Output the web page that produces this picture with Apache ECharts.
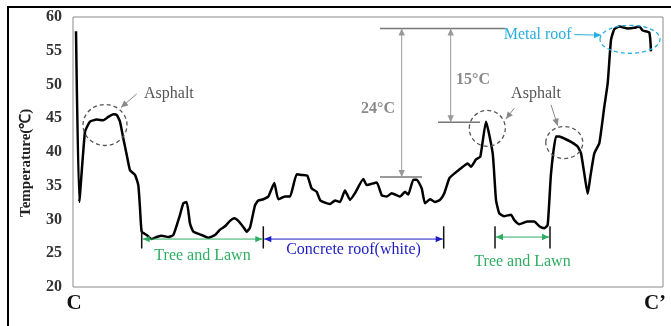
<!DOCTYPE html>
<html><head><meta charset="utf-8">
<script src="https://cdn.jsdelivr.net/npm/echarts@6.0.0/dist/echarts.min.js"></script>
<style>html,body{margin:0;padding:0;background:#fff}#c{width:671px;height:326px}</style>
</head><body><div id="c"></div>
<script>
// transect position (arbitrary distance units along C–C')
const distance = [3, 6.3, 12, 17, 23.7, 30.3, 35.3, 40.3, 43.7, 47,
  50.3, 53.7, 57, 62, 65.3, 67, 68.7, 73.7, 78.7, 83.7,
  88.7, 95.3, 100.3, 107, 110.3, 113.7, 117, 120.3, 128.7, 135.3,
  142, 147, 152, 157, 161.3, 165.3, 170.3, 173.7, 177, 182,
  185.3, 190.3, 195.3, 201.3, 205.3, 212, 217, 223.7, 228.7, 234.3,
  238.7, 243.7, 247, 252, 257, 262, 267, 272, 277, 282,
  290.3, 293.7, 303.7, 308.7, 313.7, 318.7, 327, 332, 335.3, 340.3,
  343.7, 348.7, 352, 357, 362, 367, 371.3, 376.3, 381.3, 388,
  394.7, 398, 403, 407.3, 413, 419.7, 423, 426.3, 431.3, 438,
  441.3, 446.3, 454.7, 461.3, 466.3, 471.3, 474.7, 478, 483, 486.3,
  491.3, 498, 504.7, 508, 511.3, 514.7, 517.3, 521.3, 526.3, 531.3,
  534.7, 538, 541.3, 546.3, 554.7, 561.3, 566.3, 569.7, 576.3, 578];
// surface temperature (°C)
const temperature = [57.9, 32.6, 43.0, 44.5, 44.8, 44.7, 45.2, 45.6, 45.5, 44.5,
  42.0, 39.6, 37.3, 36.6, 35.1, 31.7, 28.2, 27.7, 27.1, 27.4,
  27.6, 27.4, 27.7, 30.7, 32.4, 32.6, 29.4, 28.2, 27.7, 27.3,
  27.7, 28.5, 29.0, 29.8, 30.2, 29.8, 28.9, 28.2, 28.8, 32.1,
  32.8, 33.0, 33.4, 35.4, 33.0, 33.4, 33.4, 36.7, 36.6, 36.5,
  34.6, 34.1, 32.9, 32.5, 32.3, 32.8, 32.6, 34.3, 32.9, 33.9,
  36.0, 35.1, 35.5, 33.6, 33.4, 33.9, 33.4, 34.1, 33.7, 35.9,
  35.9, 34.6, 32.4, 33.0, 32.6, 32.9, 33.9, 36.1, 36.8, 37.6,
  38.3, 37.8, 38.9, 39.3, 44.5, 39.8, 32.9, 30.9, 30.5, 30.7,
  29.9, 29.3, 29.7, 29.7, 29.0, 28.7, 29.2, 36.8, 42.3, 42.3,
  42.0, 41.5, 40.8, 39.8, 36.8, 33.8, 36.3, 39.8, 41.3, 46.7,
  50.2, 56.6, 58.2, 58.6, 58.3, 58.4, 58.6, 58.0, 57.7, 54.9];
const yMin = 20, yMax = 60, yStep = 5;
const xMin = 0, xMax = 590;
const yTitle = 'Temperature(\u2103)';
const endLabels = ['C', 'C\u2019'];
// surface regions along the transect
const regionNames = ['Tree and Lawn', 'Concrete roof(white)', 'Tree and Lawn'];
const regionStart = [68.7, 190.3, 422];
const regionEnd = [190.3, 370.7, 477];
const regionColors = ['#2eae62', '#1c1cc4', '#2eae62'];
// temperature-difference annotations
const refHigh = 58.3, refConcrete = 36.3, refAsphalt = 44.4;
const diffLabels = ['24\u00b0C', '15\u00b0C'];

const SERIF = '"Liberation Serif", "Times New Roman", serif';
const chart = echarts.init(document.getElementById('c'));
chart.setOption({
  animation: false,
  grid: {left: 73, top: 17, width: 590, height: 270, show: true, borderColor: '#8a8a8a', borderWidth: 1, backgroundColor: 'transparent'},
  xAxis: {type: 'value', min: xMin, max: xMax, axisLine: {show: false}, axisTick: {show: false}, axisLabel: {show: false}, splitLine: {show: false}},
  yAxis: {type: 'value', min: yMin, max: yMax, interval: yStep,
    axisLine: {show: false}, axisTick: {show: false}, splitLine: {show: false},
    axisLabel: {fontFamily: SERIF, fontWeight: 'bold', fontSize: 16, color: '#333', margin: 11}},
  series: [{type: 'line', data: distance.map((d, i) => [d, temperature[i]]), showSymbol: false,
    lineStyle: {color: '#000', width: 2.5, join: 'round'}, smooth: 0.15, z: 5}]
});

const P = (x, y) => chart.convertToPixel({gridIndex: 0}, [x, y]);
const G = [];
function line(a, b, color, w) {
  G.push({type: 'line', shape: {x1: a[0], y1: a[1], x2: b[0], y2: b[1]}, style: {stroke: color, lineWidth: w || 1}, silent: true, z: 10});
}
function head(p, from, color, len, w) {
  len = len || 7; w = w || 3.2;
  const dx = p[0] - from[0], dy = p[1] - from[1], L = Math.hypot(dx, dy), ux = dx / L, uy = dy / L;
  const bx = p[0] - ux * len, by = p[1] - uy * len;
  G.push({type: 'polygon', shape: {points: [[p[0], p[1]], [bx - uy * w, by + ux * w], [bx + uy * w, by - ux * w]]}, style: {fill: color}, silent: true, z: 11});
}
function arrow(a, b, color, both, w) {
  line(a, b, color, w || 1);
  head(b, a, color);
  if (both) head(a, b, color);
}
function text(p, str, color, size, bold, align, rot) {
  G.push({type: 'text', x: p[0], y: p[1], rotation: rot || 0, silent: true, z: 12,
    style: {text: str, fill: color, font: (bold ? 'bold ' : '') + size + 'px ' + SERIF,
      align: align || 'center', textAlign: align || 'center', verticalAlign: 'middle', textVerticalAlign: 'middle'}});
}
function ellipse(c, rx, ry, color) {
  G.push({type: 'ellipse', shape: {cx: c[0], cy: c[1], rx: rx, ry: ry}, style: {fill: 'none', stroke: color, lineWidth: 1.3, lineDash: [4, 3]}, silent: true, z: 9});
}

// outer frame
G.push({type: 'rect', shape: {x: 8, y: 7, width: 720, height: 400}, style: {fill: 'none', stroke: '#000', lineWidth: 2}, silent: true, z: 1});

// axis title
const yMid = P(xMin, 38.4);
text([yMid[0] - 47, yMid[1]], yTitle, '#222', 15, true, 'center', Math.PI / 2);

// end labels
const o = P(xMin, yMin), e = P(xMax, yMin);
text([o[0] + 1, o[1] + 17], endLabels[0], '#111', 21, true);
text([e[0] - 8, o[1] + 17], endLabels[1], '#111', 21, true);

// asphalt / metal roof annotations
const grey = '#777';
ellipse(P(32, 44.0), 22, 20.5, '#555');
ellipse(P(414.3, 43.5), 18, 18, '#555');
ellipse(P(491.3, 41.4), 18.5, 16, '#555');
ellipse(P(557, 56.7), 30, 14, '#29aee0');
text(P(71, 48.6), 'Asphalt', '#555', 16, false, 'left');
arrow(P(63.7, 48.6), P(48, 46.6), '#888');
text(P(463, 48.6), 'Asphalt', '#555', 16, false);
arrow(P(441.3, 46.5), P(433, 44.9), '#888');
arrow(P(478, 47.0), P(484.7, 43.9), '#888');
text(P(464.7, 57.3), 'Metal roof', '#29aee0', 16, false);
arrow(P(501.3, 57.4), P(528, 57.3), '#29aee0');

// temperature difference brackets
line(P(307, refHigh), P(432, refHigh), grey, 1.5);
line(P(307, refConcrete), P(349, refConcrete), grey, 1.5);
line(P(365, refAsphalt), P(407, refAsphalt), grey, 1.5);
arrow(P(328.7, refHigh), P(328.7, refConcrete), '#999', true);
arrow(P(377.7, refHigh), P(377.7, refAsphalt), '#999', true);
text(P(305, 46.4), diffLabels[0], '#8a8a8a', 16, true);
text(P(400, 50.7), diffLabels[1], '#8a8a8a', 16, true);

// region brackets
const arrowY = [27.1, 27.1, 27.4];
const labelY = [24.6, 25.5, 23.7];
for (let i = 0; i < regionNames.length; i++) {
  const a = P(regionStart[i], arrowY[i]), b = P(regionEnd[i], arrowY[i]);
  arrow([a[0] + 1, a[1]], [b[0] - 1, b[1]], regionColors[i], true);
  const mid = P((regionStart[i] + regionEnd[i]) / 2, labelY[i]);
  text(mid, regionNames[i], regionColors[i], 16, false);
}
const tickX = [68.7, 190.3, 370.7, 422, 477];
const tickTops = [28.3, 29.0, 29.0, 29.0, 29.0];
tickX.forEach((x, i) => line(P(x, tickTops[i]), P(x, 25.7), '#111', 1.5));

chart.setOption({graphic: G});
</script></body></html>
